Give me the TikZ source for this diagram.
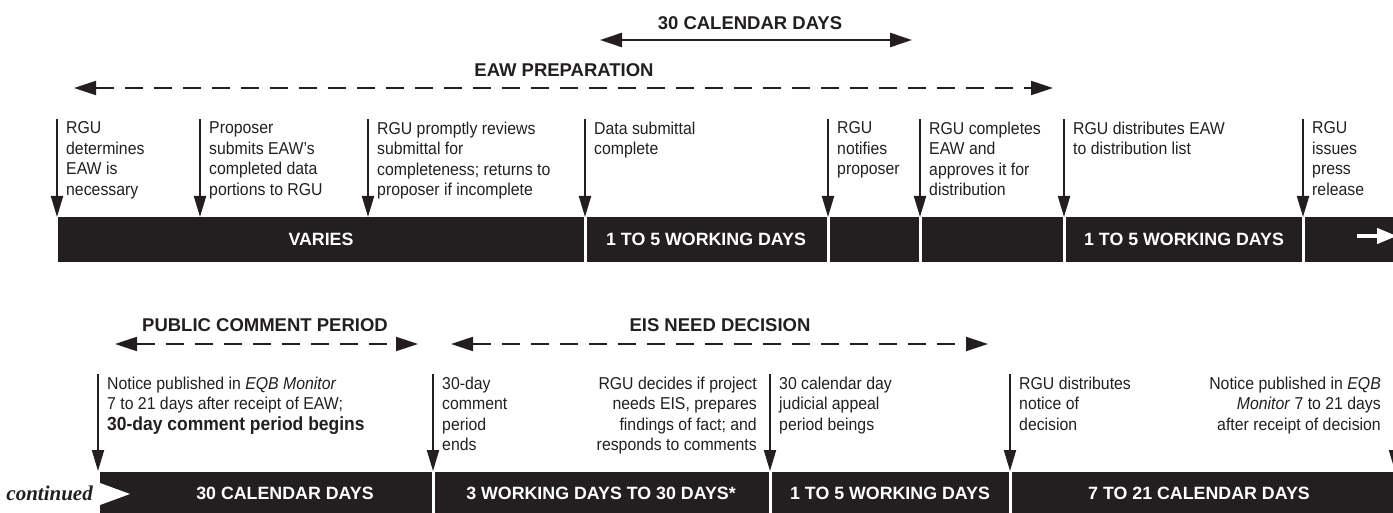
\documentclass[tikz,border=0pt]{standalone}
\usepackage{fontspec}
\usepackage{tikz}
\usetikzlibrary{arrows.meta}
\setmainfont{Liberation Sans}
\newfontfamily\notefont{Liberation Sans}[FakeStretch=0.92]
\newfontfamily\contfont{Liberation Serif}
\definecolor{ink}{RGB}{35,31,32}
\newcommand{\notesize}{\notefont\fontsize{17.2}{20.5}\selectfont}
\newcommand{\headsize}{\fontsize{18.5}{22}\selectfont\bfseries}
\newcommand{\barsize}{\fontsize{17.8}{21}\selectfont\bfseries}

\begin{document}
\begin{tikzpicture}[x=1pt,y=1pt]
                        \tikzstyle{every node}+=[inner sep=0pt, text=ink]
                        \tikzstyle{note}=[anchor=north west, align=left, font=\notesize]
                        \tikzstyle{rnote}=[anchor=north east, align=right, font=\notesize]
                        \tikzstyle{head}=[font=\headsize]
                        \tikzstyle{bartext}=[font=\barsize, text=white]
                        \tikzstyle{tick}=[ink, line width=2pt, -{Triangle[length=21pt,width=12pt]}]
                        \tikzstyle{spanarrow}=[ink, line width=2.5pt, {Triangle[length=22pt,width=14pt]}-{Triangle[length=22pt,width=14pt]}]
                        \tikzstyle{dasharrow}=[spanarrow, line width=2pt, dash pattern=on 18pt off 11pt]
                        \useasboundingbox (0,0) rectangle (1393,-513);
                        \coordinate (topbar) at (0,-217);
                        \coordinate (lowbar) at (0,-471);
                        \fill [ink] (58,-217) rectangle (583.5,-262);
                        \fill [ink] (586.5,-217) rectangle (826.5,-262);
                        \fill [ink] (829.5,-217) rectangle (918.5,-262);
                        \fill [ink] (921.5,-217) rectangle (1062.5,-262);
                        \fill [ink] (1065.5,-217) rectangle (1301.5,-262);
                        \fill [ink] (1304.5,-217) rectangle (1400,-262);
                        \node [bartext] (varies) at (321,-239.5) {VARIES};
                        \node [bartext] (workA) at (706,-239.5) {1 TO 5 WORKING DAYS};
                        \node [bartext] (workB) at (1184,-239.5) {1 TO 5 WORKING DAYS};
                        \draw [white, line width=4pt, -{Triangle[length=20pt,width=15pt]}] (1357,-236) -- (1397,-236);
                        \fill [ink] (100,-472) rectangle (431.5,-515);
                        \fill [ink] (434.5,-472) rectangle (768.5,-515);
                        \fill [ink] (771.5,-472) rectangle (1008.5,-515);
                        \fill [ink] (1011.5,-472) rectangle (1400,-515);
                        \fill [white] (100,-483) -- (130,-494) -- (100,-505) -- cycle;
                        \node [anchor=base east, font=\contfont\bfseries\itshape\fontsize{21}{24}\selectfont] (cont) at (93,-500) {continued};
                        \node [bartext] (calA) at (285,-493) {30 CALENDAR DAYS};
                        \node [bartext] (workC) at (601,-493) {3 WORKING DAYS TO 30 DAYS*};
                        \node [bartext] (workD) at (890,-493) {1 TO 5 WORKING DAYS};
                        \node [bartext] (calB) at (1199,-493) {7 TO 21 CALENDAR DAYS};
                        \node [head] (calendar) at (750,-23) {30 CALENDAR DAYS};
                        \coordinate (calL) at (600,-40);
                        \coordinate (calR) at (912,-40);
                        \draw [spanarrow] (calL) -- (calR);
                        \node [head] (prep) at (564,-70) {EAW PREPARATION};
                        \coordinate (prepL) at (74,-88);
                        \coordinate (prepR) at (1053,-88);
                        \draw [dasharrow] (prepL) -- (prepR);
                        \node [head] (public) at (265,-325) {PUBLIC COMMENT PERIOD};
                        \coordinate (publicL) at (115,-344);
                        \coordinate (publicR) at (418,-344);
                        \draw [dasharrow] (publicL) -- (publicR);
                        \node [head] (need) at (720,-325) {EIS NEED DECISION};
                        \coordinate (needL) at (451,-344);
                        \coordinate (needR) at (988,-344);
                        \draw [dasharrow] (needL) -- (needR);
                        \coordinate (t1) at (57,-119);
                        \coordinate (t2) at (200,-119);
                        \coordinate (t3) at (368,-119);
                        \coordinate (t4) at (585,-119);
                        \coordinate (t5) at (828,-119);
                        \coordinate (t6) at (920,-119);
                        \coordinate (t7) at (1064,-119);
                        \coordinate (t8) at (1303,-119);
                        \draw [tick] (t1) -- (t1 |- topbar);
                        \draw [tick] (t2) -- (t2 |- topbar);
                        \draw [tick] (t3) -- (t3 |- topbar);
                        \draw [tick] (t4) -- (t4 |- topbar);
                        \draw [tick] (t5) -- (t5 |- topbar);
                        \draw [tick] (t6) -- (t6 |- topbar);
                        \draw [tick] (t7) -- (t7 |- topbar);
                        \draw [tick] (t8) -- (t8 |- topbar);
                        \node [note] (determines) at (66,-121.7) {RGU\\determines\\EAW is\\necessary};
                        \node [note] (submits) at (209,-121.7) {Proposer\\submits EAW’s\\completed data\\portions to RGU};
                        \node [note] (reviews) at (377,-121.7) {RGU promptly reviews\\submittal for\\completeness; returns to\\proposer if incomplete};
                        \node [note] (complete) at (594,-121.7) {Data submittal\\complete};
                        \node [note] (notifies) at (837,-121.7) {RGU\\notifies\\proposer};
                        \node [note] (approves) at (929,-121.7) {RGU completes\\EAW and\\approves it for\\distribution};
                        \node [note] (distributes) at (1073,-121.7) {RGU distributes EAW\\to distribution list};
                        \node [note] (press) at (1312,-121.7) {RGU\\issues\\press\\release};
                        \coordinate (b1) at (98,-374);
                        \coordinate (b2) at (433,-374);
                        \coordinate (b3) at (770,-374);
                        \coordinate (b4) at (1010,-374);
                        \coordinate (b5) at (1395,-374);
                        \draw [tick] (b1) -- (b1 |- lowbar);
                        \draw [tick] (b2) -- (b2 |- lowbar);
                        \draw [tick] (b3) -- (b3 |- lowbar);
                        \draw [tick] (b4) -- (b4 |- lowbar);
                        \draw [tick] (b5) -- (b5 |- lowbar);
                        \node [note] (begins) at (107,-376.7) {Notice published in \textit{EQB Monitor}\\7 to 21 days after receipt of EAW;\\{\fontsize{19}{20.5}\selectfont\bfseries 30-day comment period begins}};
                        \node [note] (ends) at (442,-376.7) {30-day\\comment\\period\\ends};
                        \node [rnote] (decides) at (757,-376.7) {RGU decides if project\\needs EIS, prepares\\findings of fact; and\\responds to comments};
                        \node [note] (appeal) at (779,-376.7) {30 calendar day\\judicial appeal\\period beings};
                        \node [note] (notice) at (1019,-376.7) {RGU distributes\\notice of\\decision};
                        \node [rnote] (receipt) at (1381,-376.7) {Notice published in \textit{EQB}\\\textit{Monitor} 7 to 21 days\\after receipt of decision};
\end{tikzpicture}
\end{document}
